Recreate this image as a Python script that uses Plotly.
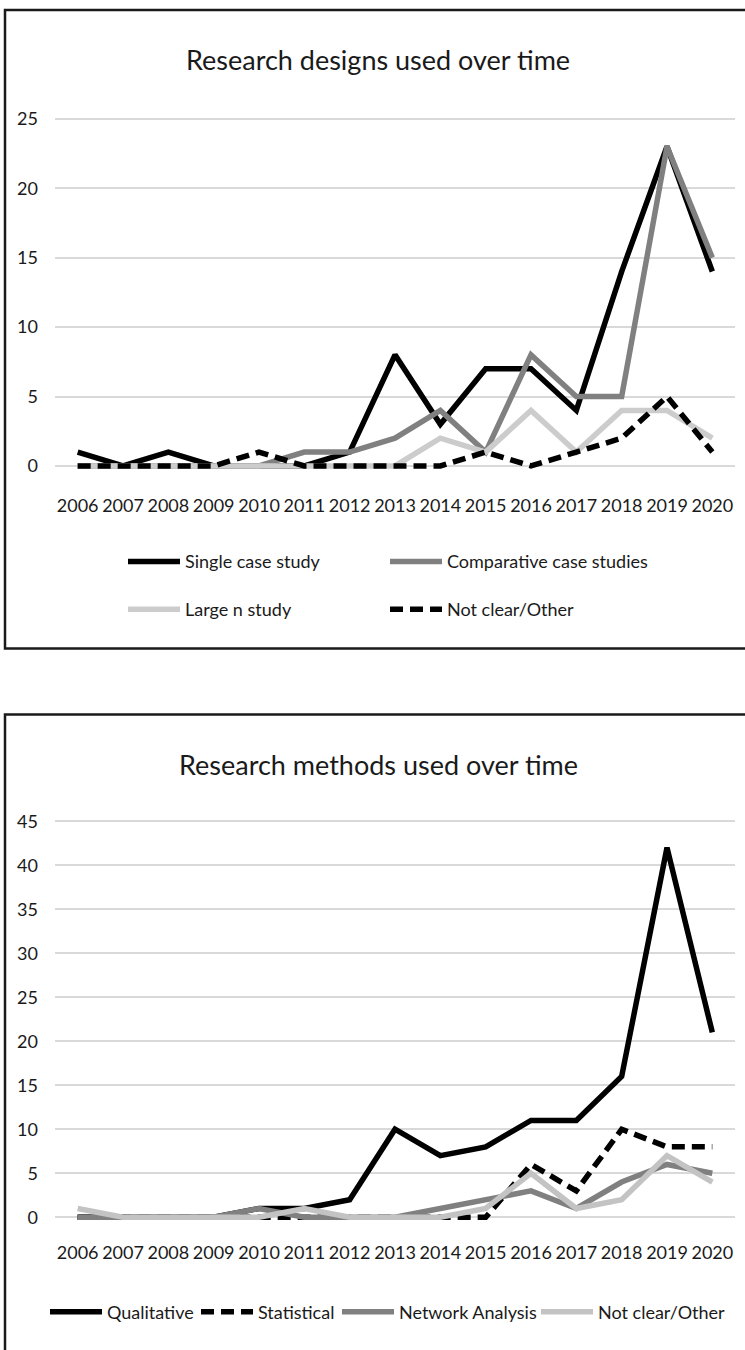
import plotly.graph_objects as go

W, H = 745, 1350

years = list(range(2006, 2021))
year_labels = [str(y) for y in years]

# Chart 1: research designs
single_case = [1, 0, 1, 0, 0, 0, 1, 8, 3, 7, 7, 4, 14, 23, 14]
comparative = [0, 0, 0, 0, 0, 1, 1, 2, 4, 1, 8, 5, 5, 23, 15]
large_n = [0, 0, 0, 0, 0, 0, 0, 0, 2, 1, 4, 1, 4, 4, 2]
not_clear_designs = [0, 0, 0, 0, 1, 0, 0, 0, 0, 1, 0, 1, 2, 5, 1]

# Chart 2: research methods
qualitative = [0, 0, 0, 0, 1, 1, 2, 10, 7, 8, 11, 11, 16, 42, 21]
statistical = [0, 0, 0, 0, 0, 0, 0, 0, 0, 0, 6, 3, 10, 8, 8]
network = [0, 0, 0, 0, 1, 0, 0, 0, 1, 2, 3, 1, 4, 6, 5]
not_clear_methods = [1, 0, 0, 0, 0, 1, 0, 0, 0, 1, 5, 1, 2, 7, 4]

top_ticks = [0, 5, 10, 15, 20, 25]
bot_ticks = [0, 5, 10, 15, 20, 25, 30, 35, 40, 45]

FONT = "Lato, Roboto, sans-serif"
TXT = "#1a1a1a"
LW = 5.5
TICK_SIZE = 18
LEG_SIZE = 18
TITLE_SIZE = 27
ITEMW = 52

def px_x(p):
    return p / W

def px_y(p):
    return 1 - p / H

fig = go.Figure()

# (name, values, colour, dash, legend id, legend line start px, legend y px)
top_series = [
    ("Single case study", single_case, "#000000", "solid", "legend", 128, 560),
    ("Comparative case studies", comparative, "#808080", "solid", "legend2", 390, 560),
    ("Large n study", large_n, "#cccccc", "solid", "legend3", 128, 608),
    ("Not clear/Other", not_clear_designs, "#000000", "13px,7px", "legend4", 390, 608),
]
bot_series = [
    ("Qualitative", qualitative, "#000000", "solid", "legend5", 50, 1312),
    ("Statistical", statistical, "#000000", "13px,7px", "legend6", 201, 1312),
    ("Network Analysis", network, "#808080", "solid", "legend7", 342, 1312),
    ("Not clear/Other", not_clear_methods, "#c3c3c3", "solid", "legend8", 541, 1312),
]

legends = {}
for series, xa, ya in ((top_series, "x", "y"), (bot_series, "x2", "y2")):
    for name, vals, col, dash, lg, lx, ly in series:
        fig.add_trace(go.Scatter(x=years, y=vals, mode="lines", name=name,
                                 line=dict(color=col, width=LW, dash=dash),
                                 xaxis=xa, yaxis=ya, legend=lg))
        legends[lg] = dict(orientation="h", x=px_x(lx - 5), y=px_y(ly),
                           xanchor="left", yanchor="middle", itemwidth=ITEMW,
                           font=dict(family=FONT, size=LEG_SIZE, color=TXT),
                           bgcolor="rgba(0,0,0,0)", borderwidth=0)

xdom = [px_x(55), px_x(735)]
xaxis_common = dict(range=[2005.5, 2020.5], tickvals=years, ticktext=year_labels,
                    showgrid=False, zeroline=False, showline=False, ticks="",
                    tickangle=0,
                    tickfont=dict(family=FONT, size=TICK_SIZE, color=TXT),
                    ticklabelstandoff=10, fixedrange=True)
yaxis_common = dict(showgrid=True, gridcolor="#d9d9d9", gridwidth=2, zeroline=False,
                    showline=False, ticks="",
                    tickfont=dict(family=FONT, size=TICK_SIZE, color=TXT),
                    ticklabelstandoff=16, fixedrange=True)

fig.update_layout(
    width=W, height=H,
    margin=dict(l=0, r=0, t=0, b=0),
    paper_bgcolor="white", plot_bgcolor="white",
    font=dict(family=FONT, size=LEG_SIZE, color=TXT),
    xaxis=dict(domain=xdom, anchor="y", **xaxis_common),
    yaxis=dict(domain=[px_y(480.7), px_y(104.9)], range=[-1.2, 25.8],
               tickvals=top_ticks, anchor="x", **yaxis_common),
    xaxis2=dict(domain=xdom, anchor="y2", **xaxis_common),
    yaxis2=dict(domain=[px_y(1230.2), px_y(811.2)], range=[-1.5, 46],
                tickvals=bot_ticks, anchor="x2", **yaxis_common),
    showlegend=True,
    **legends,
)

fig.add_annotation(text="Research designs used over time", xref="paper", yref="paper",
                   x=px_x(378), y=px_y(57), xanchor="center", yanchor="middle",
                   showarrow=False, font=dict(family=FONT, size=TITLE_SIZE, color=TXT))
fig.add_annotation(text="Research methods used over time", xref="paper", yref="paper",
                   x=px_x(379), y=px_y(763), xanchor="center", yanchor="middle",
                   showarrow=False, font=dict(family=FONT, size=TITLE_SIZE, color=TXT))

fig.add_shape(type="rect", xref="paper", yref="paper",
              x0=px_x(5), x1=px_x(760), y0=px_y(647), y1=px_y(7),
              line=dict(color="#1a1a1a", width=2.5), fillcolor="rgba(0,0,0,0)", layer="above")
fig.add_shape(type="rect", xref="paper", yref="paper",
              x0=px_x(5), x1=px_x(760), y0=px_y(1370), y1=px_y(713),
              line=dict(color="#1a1a1a", width=2.5), fillcolor="rgba(0,0,0,0)", layer="above")

fig.write_html("out.html", config={"displayModeBar": False},
               post_script="document.body.style.margin='0';")
